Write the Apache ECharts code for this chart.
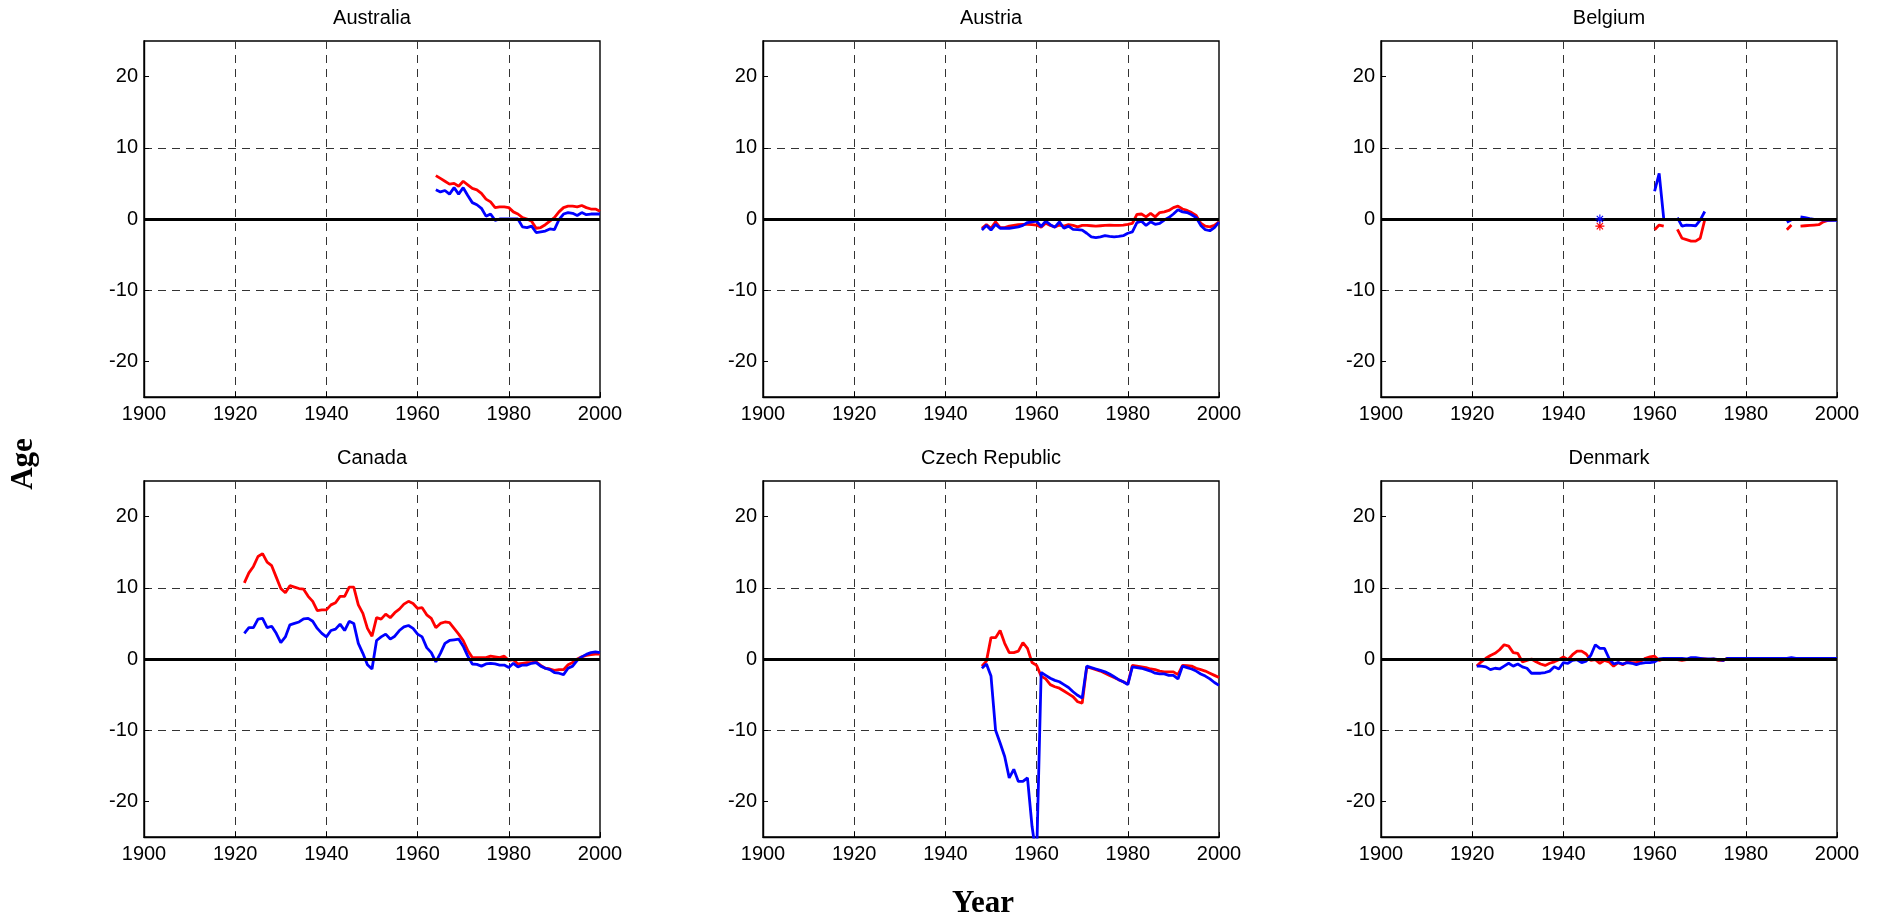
<!DOCTYPE html>
<html>
<head>
<meta charset="utf-8">
<script src="https://cdn.jsdelivr.net/npm/echarts@6/dist/echarts.min.js"></script>
<style>
  html, body { margin: 0; padding: 0; background: #fff; }
  #main { width: 1878px; height: 921px; }
</style>
</head>
<body>
<div id="main"></div>
<script>
// subplot titles, left to right, top to bottom
const countries = ["Australia", "Austria", "Belgium", "Canada", "Czech Republic", "Denmark"];
const yTicks = [-20, -10, 0, 10, 20];

// first year of every country's series (one value per year after that)
const startYears = [1964, 1948, 1948, 1922, 1948, 1921];

const ausRed = [6.1, 5.7, 5.3, 4.9, 5.0, 4.6, 5.3, 4.8, 4.3, 4.1,
  3.6, 2.8, 2.4, 1.6, 1.7, 1.7, 1.6, 1.0, 0.7, 0.2,
  0.0, -0.3, -1.3, -1.2, -0.8, -0.3, 0.2, 1.0, 1.6, 1.8,
  1.8, 1.7, 1.9, 1.6, 1.4, 1.4, 1.1];
const ausBlue = [4.1, 3.8, 4.0, 3.5, 4.4, 3.5, 4.4, 3.3, 2.3, 2.0,
  1.5, 0.4, 0.7, -0.2, 0.0, 0.0, 0.0, 0.0, 0.0, -1.1,
  -1.2, -1.0, -1.9, -1.8, -1.7, -1.4, -1.5, -0.1, 0.7, 0.9,
  0.8, 0.5, 0.9, 0.6, 0.7, 0.7, 0.7];

const autRed = [-1.3, -0.8, -1.3, -0.4, -1.2, -1.2, -1.0, -0.9, -0.8, -0.75,
  -0.75, -0.8, -0.85, -1.15, -0.6, -0.9, -1.1, -0.85, -1.0, -0.8,
  -0.9, -1.1, -0.9, -0.9, -0.95, -1.0, -0.95, -0.9, -0.85, -0.9,
  -0.9, -0.85, -0.75, -0.6, 0.65, 0.7, 0.3, 0.8, 0.3, 0.9,
  1.0, 1.2, 1.6, 1.8, 1.4, 1.2, 0.9, 0.5, -0.6, -1.0,
  -1.1, -0.9, -0.4];
const autBlue = [-1.55, -0.9, -1.55, -0.75, -1.3, -1.3, -1.3, -1.2, -1.1, -0.9,
  -0.5, -0.4, -0.3, -1.05, -0.3, -0.8, -1.15, -0.4, -1.3, -1.0,
  -1.45, -1.5, -1.55, -2.0, -2.5, -2.6, -2.5, -2.35, -2.45, -2.5,
  -2.45, -2.35, -2.0, -1.8, -0.5, -0.3, -0.9, -0.4, -0.75, -0.6,
  -0.15, 0.2, 0.7, 1.3, 1.0, 0.9, 0.6, 0.2, -0.9, -1.5,
  -1.65, -1.2, -0.45];

const belRed = [-1.0, null, null, null, null, null, null, null, null, null,
  null, null, -1.5, -0.85, -1.0, null, null, -1.45, -2.7, -2.9,
  -3.1, -3.1, -2.7, -0.1, null, null, null, null, null, null,
  null, null, null, null, null, null, null, null, null, null,
  null, -1.5, -0.85, null, -1.0, -0.95, -0.9, -0.85, -0.8, -0.4,
  -0.2, -0.15, -0.1];
const belBlue = [0.0, null, null, null, null, null, null, null, null, null,
  null, null, 3.9, 6.4, 0.1, null, null, 0.2, -1.0, -0.85,
  -0.9, -0.95, -0.15, 1.05, null, null, null, null, null, null,
  null, null, null, null, null, null, null, null, null, null,
  null, -0.45, -0.1, null, 0.3, 0.2, 0.05, -0.05, -0.1, -0.15,
  -0.2, -0.2, -0.2];

const canRed = [10.7, 12.1, 13.0, 14.4, 14.8, 13.6, 13.1, 11.5, 9.9, 9.3,
  10.3, 10.1, 9.9, 9.8, 8.8, 8.1, 6.8, 6.9, 6.9, 7.6,
  7.9, 8.8, 8.8, 10.1, 10.1, 7.6, 6.4, 4.3, 3.2, 5.8,
  5.6, 6.3, 5.8, 6.5, 7.0, 7.7, 8.1, 7.8, 7.1, 7.2,
  6.2, 5.7, 4.4, 5.0, 5.2, 5.1, 4.3, 3.5, 2.6, 1.2,
  0.2, 0.2, 0.2, 0.2, 0.4, 0.3, 0.2, 0.4, -0.2, -0.1,
  -0.7, -0.6, -0.5, -0.5, -0.4, -0.9, -1.3, -1.4, -1.6, -1.5,
  -1.5, -0.8, -0.5, 0.0, 0.3, 0.5, 0.6, 0.7, 0.7];
const canBlue = [3.6, 4.4, 4.4, 5.6, 5.7, 4.4, 4.6, 3.6, 2.3, 3.1,
  4.8, 5.0, 5.2, 5.65, 5.7, 5.3, 4.3, 3.6, 3.1, 4.0,
  4.2, 4.9, 4.0, 5.3, 5.0, 2.2, 0.8, -0.8, -1.4, 2.6,
  3.1, 3.5, 2.8, 3.2, 4.0, 4.5, 4.7, 4.3, 3.5, 3.1,
  1.6, 0.9, -0.4, 0.8, 2.2, 2.6, 2.7, 2.8, 1.8, 0.4,
  -0.7, -0.75, -1.0, -0.7, -0.6, -0.7, -0.85, -0.85, -1.2, -0.6,
  -1.1, -0.85, -0.85, -0.6, -0.5, -1.0, -1.3, -1.5, -1.9, -2.0,
  -2.2, -1.3, -1.0, -0.2, 0.3, 0.65, 0.9, 1.0, 0.9];

const czeRed = [-1.0, -0.3, 3.0, 3.0, 4.0, 2.2, 0.9, 0.9, 1.1, 2.3,
  1.5, -0.5, -0.9, -2.4, -2.8, -3.6, -3.9, -4.1, -4.5, -4.9,
  -5.3, -6.0, -6.2, -1.1, -1.3, -1.5, -1.7, -2.0, -2.3, -2.6,
  -2.9, -3.2, -3.5, -0.9, -1.0, -1.1, -1.2, -1.4, -1.5, -1.7,
  -1.8, -1.8, -1.8, -2.2, -0.9, -0.95, -1.0, -1.3, -1.5, -1.7,
  -2.0, -2.3, -2.6];
const czeBlue = [-1.3, -0.7, -2.4, -10.0, -11.8, -13.7, -16.7, -15.5, -17.2, -17.2,
  -16.7, -23.5, -28.0, -1.9, -2.3, -2.7, -3.0, -3.2, -3.6, -4.0,
  -4.6, -5.1, -5.5, -1.0, -1.2, -1.4, -1.6, -1.8, -2.1, -2.5,
  -2.9, -3.2, -3.6, -1.1, -1.2, -1.3, -1.5, -1.7, -2.0, -2.1,
  -2.1, -2.3, -2.3, -2.8, -1.0, -1.2, -1.4, -1.7, -2.1, -2.4,
  -2.8, -3.3, -3.7];

const denRed = [-1.0, -0.4, 0.1, 0.5, 0.8, 1.3, 2.0, 1.8, 0.9, 0.8,
  -0.4, -0.2, 0.0, -0.4, -0.7, -0.9, -0.6, -0.4, -0.1, 0.3,
  -0.1, 0.6, 1.1, 1.1, 0.7, -0.2, -0.1, -0.6, -0.2, -0.4,
  -1.0, -0.5, -0.8, -0.4, -0.5, -0.5, -0.3, 0.1, 0.3, 0.4,
  -0.2, 0.0, 0.0, 0.1, -0.1, -0.2, -0.1, 0.0, 0.0, 0.0,
  0.0, -0.1, 0.0, -0.2, -0.2, 0.1, 0.1, 0.0, 0.0, 0.0,
  0.0, 0.0, 0.0, 0.0, 0.0, 0.0, 0.0, 0.0, 0.0, 0.1,
  0.0, 0.0, 0.0, 0.0, 0.0, 0.0, 0.0, 0.0, 0.0, 0.1];
const denBlue = [-1.0, -1.0, -1.1, -1.5, -1.3, -1.4, -1.0, -0.6, -1.0, -0.7,
  -1.1, -1.3, -2.0, -2.0, -2.0, -1.9, -1.7, -1.1, -1.4, -0.5,
  -0.6, -0.2, -0.1, -0.5, -0.3, 0.5, 2.0, 1.5, 1.5, 0.1,
  -0.7, -0.5, -0.7, -0.5, -0.6, -0.8, -0.6, -0.5, -0.5, -0.4,
  0.0, 0.1, 0.1, 0.1, 0.1, 0.1, 0.0, 0.2, 0.2, 0.1,
  0.0, 0.0, 0.0, -0.1, -0.2, 0.1, 0.1, 0.1, 0.1, 0.1,
  0.1, 0.1, 0.1, 0.1, 0.1, 0.1, 0.1, 0.1, 0.1, 0.2,
  0.1, 0.1, 0.1, 0.1, 0.1, 0.1, 0.1, 0.1, 0.1, 0.1];

const redSeries = [ausRed, autRed, belRed, canRed, czeRed, denRed];
const blueSeries = [ausBlue, autBlue, belBlue, canBlue, czeBlue, denBlue];

// subplot boxes (px)
const colLeft = [144, 763, 1381];
const rowTop = [41, 481];
const plotW = 456;
const plotH = 356;

const FONT = "'Liberation Sans', Arial, Helvetica, sans-serif";
const SERIF = "'Liberation Serif', 'Times New Roman', serif";

// MATLAB '*' marker
const asterisk = "path://M-0.12,-1h0.24v2h-0.24z M-1,-0.12h2v0.24h-2z " +
  "M-0.615,-0.785L0.785,0.615L0.615,0.785L-0.785,-0.615z " +
  "M-0.785,0.615L0.615,-0.785L0.785,-0.615L-0.615,0.785z";

function toPairs(start, vals) {
  return vals.map((v, i) => [start + i, v]);
}

// single years with no neighbour get drawn as markers
function lonePoints(start, vals) {
  const out = [];
  vals.forEach((v, i) => {
    if (v === null) return;
    const prev = i > 0 ? vals[i - 1] : null;
    const next = i < vals.length - 1 ? vals[i + 1] : null;
    if (prev === null && next === null) out.push([start + i, v]);
  });
  return out;
}

const grids = [];
const xAxes = [];
const yAxes = [];
const series = [];
const graphics = [];

const gridLine = { show: true, showMinLine: false, showMaxLine: false,
  lineStyle: { color: "#333", width: 1, type: [8, 6] } };

countries.forEach((name, i) => {
  const left = colLeft[i % 3];
  const top = rowTop[Math.floor(i / 3)];
  grids.push({ left: left, top: top, width: plotW, height: plotH,
    show: true, borderColor: "#000", borderWidth: 1.4, containLabel: false });

  xAxes.push({
    type: "value", gridIndex: i, min: 1900, max: 2000, interval: 20,
    axisLine: { show: true, onZero: false, lineStyle: { color: "#000", width: 1.4 } },
    axisTick: { show: true, inside: true, length: 5, lineStyle: { color: "#000" } },
    axisLabel: { color: "#000", fontSize: 20, fontFamily: FONT, margin: 7,
      formatter: (v) => String(v) },
    splitLine: gridLine
  });
  yAxes.push({
    type: "value", gridIndex: i, min: -25, max: 25,
    axisLine: { show: true, onZero: false, lineStyle: { color: "#000", width: 1.4 } },
    axisTick: { show: true, inside: true, length: 5, customValues: yTicks, lineStyle: { color: "#000" } },
    axisLabel: { color: "#000", fontSize: 20, fontFamily: FONT, margin: 6, customValues: yTicks,
      formatter: (v) => String(v) },
    splitLine: gridLine
  });

  const start = startYears[i];
  series.push({
    type: "line", xAxisIndex: i, yAxisIndex: i,
    data: toPairs(start, redSeries[i]),
    showSymbol: false, connectNulls: false,
    lineStyle: { color: "#ff0000", width: 2.8 }, itemStyle: { color: "#ff0000" },
    markLine: { silent: true, symbol: "none", label: { show: false },
      lineStyle: { color: "#000", width: 3, type: "solid" }, data: [{ yAxis: 0 }] }
  });
  series.push({
    type: "line", xAxisIndex: i, yAxisIndex: i,
    data: toPairs(start, blueSeries[i]),
    showSymbol: false, connectNulls: false,
    lineStyle: { color: "#0000ff", width: 2.8 }, itemStyle: { color: "#0000ff" }
  });
  [[redSeries[i], "#ff0000"], [blueSeries[i], "#0000ff"]].forEach(([vals, col]) => {
    const pts = lonePoints(start, vals);
    if (pts.length) {
      series.push({ type: "scatter", xAxisIndex: i, yAxisIndex: i, data: pts, z: 5,
        symbol: asterisk, symbolSize: 9, itemStyle: { color: col, opacity: 1 } });
    }
  });

  graphics.push({
    type: "text", x: left + plotW / 2, y: top - 23,
    style: { text: name, fill: "#000", font: "20px " + FONT,
      align: "center", verticalAlign: "middle", textAlign: "center", textVerticalAlign: "middle" }
  });
});

graphics.push({
  type: "text", x: 24, y: 464, rotation: Math.PI / 2,
  style: { text: "Age", fill: "#000", font: "bold 31px " + SERIF,
    align: "center", verticalAlign: "middle", textAlign: "center", textVerticalAlign: "middle" }
});
graphics.push({
  type: "text", x: 983, y: 904,
  style: { text: "Year", fill: "#000", font: "bold 31px " + SERIF,
    align: "center", verticalAlign: "middle", textAlign: "center", textVerticalAlign: "middle" }
});

const chart = echarts.init(document.getElementById("main"));
chart.setOption({
  backgroundColor: "#fff",
  animation: false,
  grid: grids,
  xAxis: xAxes,
  yAxis: yAxes,
  series: series,
  graphic: graphics
});
</script>
</body>
</html>
